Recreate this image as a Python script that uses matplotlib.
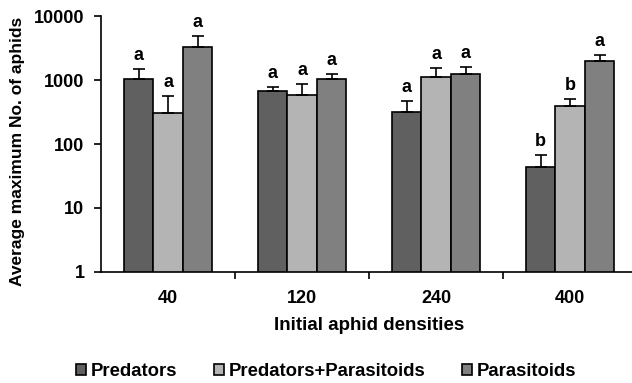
import numpy as np
import matplotlib.pyplot as plt
from matplotlib.ticker import FixedLocator, NullFormatter

plt.rcParams['font.family'] = ['Liberation Sans', 'DejaVu Sans']
plt.rcParams['font.weight'] = 'bold'

densities = ['40', '120', '240', '400']
series = ['Predators', 'Predators+Parasitoids', 'Parasitoids']
colors = ['#606060', '#b4b4b4', '#808080']

# means and upper error (top of error bar)
means = [
    [1030, 680, 313, 44],     # Predators
    [310, 583, 1114, 390],    # Predators+Parasitoids
    [3280, 1050, 1240, 1980], # Parasitoids
]
err_top = [
    [1480, 786, 468, 67],
    [560, 870, 1520, 509],
    [4900, 1260, 1590, 2450],
]
letters = [
    ['a', 'a', 'a', 'b'],
    ['a', 'a', 'a', 'b'],
    ['a', 'a', 'a', 'a'],
]

fig = plt.figure(figsize=(6.32, 3.83), dpi=100)
ax = fig.add_axes([0.16, 0.29, 0.848, 0.668])

x = np.arange(len(densities))
w = 0.22
for i in range(3):
    pos = x + (i - 1) * w
    m = np.array(means[i])
    e = np.array(err_top[i]) - m
    ax.bar(pos, m, width=w, color=colors[i], edgecolor='black', linewidth=1.2,
           label=series[i], zorder=2)
    ax.errorbar(pos, m, yerr=[np.zeros_like(e), e], fmt='none', ecolor='black',
                elinewidth=1.2, capsize=4, capthick=1.2, zorder=3)
    for p, t, l in zip(pos, err_top[i], letters[i]):
        ax.text(p, t * 1.2, l, ha='center', va='bottom', fontsize=13, fontweight='bold')

ax.set_yscale('log')
ax.set_ylim(1, 10000)
ax.set_xlim(-0.5, 3.5)
ax.set_yticks([1, 10, 100, 1000, 10000])
ax.set_yticklabels(['1', '10', '100', '1000', '10000'])
ax.yaxis.set_minor_locator(FixedLocator([]))
ax.set_xticks(x)
ax.set_xticklabels(densities)
ax.tick_params(axis='x', which='major', length=0, pad=13, labelsize=13)
ax.xaxis.set_minor_locator(FixedLocator([0.5, 1.5, 2.5]))
ax.xaxis.set_minor_formatter(NullFormatter())
ax.tick_params(axis='x', which='minor', length=5, width=1.2, direction='out')
ax.tick_params(axis='y', which='major', length=5, width=1.2, direction='out',
               labelsize=13, pad=7)

for s in ['top', 'right']:
    ax.spines[s].set_visible(False)
for s in ['left', 'bottom']:
    ax.spines[s].set_linewidth(1.2)

ax.set_ylabel('Average maximum No. of aphids', fontsize=12.5, fontweight='bold')
ax.yaxis.set_label_coords(-0.142, 0.47)
ax.set_xlabel('Initial aphid densities', fontsize=13.5, fontweight='bold')
ax.xaxis.set_label_coords(0.5, -0.175)

fig.legend(loc='center', bbox_to_anchor=(0.516, 0.031), ncol=3, frameon=False,
           handlelength=0.55, handleheight=0.55, handletextpad=0.25, columnspacing=2.0,
           prop={'size': 13.3, 'weight': 'bold'})

fig.savefig('out.png', dpi=100)
